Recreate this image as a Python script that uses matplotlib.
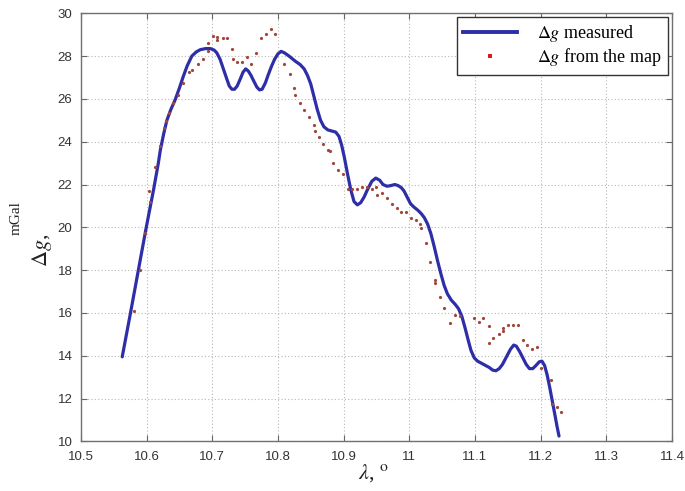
import matplotlib
matplotlib.use("Agg")
import matplotlib.pyplot as plt
from matplotlib.ticker import FuncFormatter
from matplotlib.lines import Line2D

# Measured gravity anomaly along the profile (longitude, mGal)
lon_measured = [10.563, 10.575, 10.587, 10.599, 10.611, 10.618, 10.621, 10.626, 10.631, 10.637,
                10.6435, 10.650, 10.656, 10.662, 10.669, 10.676, 10.682, 10.690, 10.697, 10.703,
                10.707, 10.712, 10.717, 10.722, 10.726, 10.730, 10.734, 10.738, 10.743, 10.747,
                10.751, 10.755, 10.759, 10.763, 10.768, 10.772, 10.776, 10.781, 10.785, 10.790,
                10.795, 10.800, 10.805, 10.810, 10.817, 10.827, 10.834, 10.840, 10.845, 10.850,
                10.855, 10.860, 10.865, 10.870, 10.876, 10.882, 10.888, 10.893, 10.897, 10.901,
                10.906, 10.911, 10.916, 10.921, 10.926, 10.931, 10.937, 10.943, 10.949, 10.955,
                10.960, 10.966, 10.972, 10.978, 10.983, 10.988, 10.992, 10.997, 11.002, 11.007,
                11.013, 11.018, 11.023, 11.028, 11.033, 11.038, 11.043, 11.048, 11.053, 11.058,
                11.064, 11.070, 11.075, 11.080, 11.085, 11.090, 11.094, 11.099, 11.104, 11.110,
                11.116, 11.122, 11.127, 11.132, 11.137, 11.142, 11.148, 11.154, 11.159, 11.163,
                11.168, 11.173, 11.178, 11.183, 11.188, 11.193, 11.198, 11.202, 11.206, 11.210,
                11.214, 11.218, 11.222, 11.225, 11.228]
dg_measured = [13.95, 15.9, 17.9, 19.9, 21.8, 23.0, 23.6, 24.35, 25.0, 25.5,
               25.95, 26.5, 27.05, 27.55, 28.0, 28.2, 28.3, 28.35, 28.35, 28.28,
               28.15, 27.85, 27.4, 26.95, 26.6, 26.45, 26.45, 26.6, 26.95, 27.25,
               27.4, 27.3, 27.1, 26.85, 26.55, 26.42, 26.45, 26.75, 27.1, 27.5,
               27.85, 28.1, 28.22, 28.15, 28.0, 27.75, 27.6, 27.4, 27.1, 26.7,
               26.1, 25.5, 25.0, 24.7, 24.55, 24.5, 24.45, 24.25, 23.85, 23.3,
               22.5, 21.75, 21.2, 21.05, 21.15, 21.4, 21.8, 22.15, 22.3, 22.2,
               22.0, 21.92, 21.95, 22.0, 21.95, 21.85, 21.7, 21.4, 21.1, 20.95,
               20.8, 20.65, 20.45, 20.15, 19.7, 19.1, 18.45, 17.85, 17.3, 16.9,
               16.6, 16.4, 16.2, 15.85, 15.3, 14.7, 14.25, 13.9, 13.75, 13.65,
               13.55, 13.45, 13.33, 13.3, 13.4, 13.6, 13.95, 14.3, 14.5, 14.45,
               14.2, 13.9, 13.6, 13.4, 13.4, 13.55, 13.72, 13.75, 13.55, 13.1,
               12.5, 11.85, 11.2, 10.7, 10.25]

# Gravity anomaly taken from the map
lon_map = [10.581, 10.590, 10.598, 10.604, 10.606, 10.613, 10.621, 10.626, 10.629, 10.634,
           10.641, 10.648, 10.656, 10.664, 10.670, 10.678, 10.686, 10.693, 10.693, 10.701,
           10.707, 10.708, 10.716, 10.723, 10.730, 10.731, 10.738, 10.745, 10.753, 10.759,
           10.767, 10.775, 10.782, 10.790, 10.796, 10.810, 10.818, 10.825, 10.826, 10.833,
           10.840, 10.847, 10.855, 10.856, 10.862, 10.869, 10.877, 10.879, 10.884, 10.892,
           10.899, 10.907, 10.913, 10.921, 10.928, 10.936, 10.944, 10.950, 10.951, 10.958,
           10.966, 10.973, 10.981, 10.988, 10.995, 11.003, 11.010, 11.017, 11.018, 11.025,
           11.032, 11.039, 11.039, 11.047, 11.053, 11.062, 11.069, 11.077, 11.099, 11.106,
           11.113, 11.121, 11.121, 11.128, 11.136, 11.142, 11.143, 11.150, 11.158, 11.165,
           11.173, 11.180, 11.187, 11.195, 11.201, 11.216, 11.218, 11.225, 11.231]
dg_map = [16.1, 18.0, 19.75, 21.7, 21.2, 22.8, 23.8, 24.65, 24.95, 25.35,
          25.8, 26.2, 26.75, 27.25, 27.35, 27.65, 27.85, 28.25, 28.6, 28.95,
          28.9, 28.75, 28.85, 28.85, 28.35, 27.85, 27.7, 27.7, 27.95, 27.65,
          28.15, 28.85, 29.05, 29.25, 29.05, 27.65, 27.15, 26.5, 26.2, 25.8,
          25.5, 25.15, 24.8, 24.5, 24.2, 23.9, 23.6, 23.55, 23.0, 22.7,
          22.5, 21.8, 21.8, 21.8, 21.9, 21.9, 21.8, 21.9, 21.5, 21.6,
          21.35, 21.1, 20.9, 20.7, 20.7, 20.45, 20.35, 20.17, 19.97, 19.25,
          18.4, 17.55, 17.4, 16.75, 16.25, 15.55, 15.9, 15.85, 15.75, 15.6,
          15.75, 15.4, 14.62, 14.82, 15.0, 15.15, 15.3, 15.42, 15.42, 15.42,
          14.73, 14.52, 14.3, 14.42, 13.42, 12.86, 11.75, 11.6, 11.36]

x_ticks = [10.5, 10.6, 10.7, 10.8, 10.9, 11.0, 11.1, 11.2, 11.3, 11.4]
y_ticks = [10, 12, 14, 16, 18, 20, 22, 24, 26, 28, 30]

plt.rcParams["mathtext.fontset"] = "stix"

fig = plt.figure(figsize=(6.85, 4.91), dpi=100)
ax = fig.add_axes([0.118, 0.101, 0.863, 0.872])

ax.plot(lon_measured, dg_measured, color="#2e2ea8", lw=2.3, solid_capstyle="round",
        solid_joinstyle="round", zorder=3)
ax.plot(lon_map, dg_map, ls="none", marker="o", ms=2.3, mew=0, color="#a3463a", zorder=4)

ax.set_xlim(10.5, 11.4)
ax.set_ylim(10, 30)
ax.set_xticks(x_ticks)
ax.set_yticks(y_ticks)
ax.xaxis.set_major_formatter(FuncFormatter(lambda v, p: f"{v:g}"))
ax.tick_params(direction="in", length=4, width=0.8, color="#666666",
               labelsize=9.5, labelcolor="#333333", top=True, right=True,
               labeltop=False, labelright=False)
ax.tick_params(axis="x", pad=7)
ax.tick_params(axis="y", pad=6)
for lab in ax.get_xticklabels() + ax.get_yticklabels():
    lab.set_fontfamily("Liberation Sans")
ax.grid(True, ls=(0, (1, 2)), color="#b8b8b8", lw=0.8)
for s in ax.spines.values():
    s.set_color("#707070")
    s.set_linewidth(1.0)

# Legend
handles = [Line2D([], [], color="#2e2ea8", lw=2.8),
           Line2D([], [], ls="none", marker="s", ms=3.2, mew=0, color="#d81a1a")]
labels = [r"$\Delta g$ measured", r"$\Delta g$ from the map"]
leg = ax.legend(handles, labels, loc="upper right", bbox_to_anchor=(0.994, 0.991),
                fancybox=False, framealpha=1, edgecolor="#333333",
                prop={"family": "Liberation Serif", "size": 13},
                handlelength=3.0, borderpad=0.35, labelspacing=0.1, handletextpad=1.1,
                borderaxespad=0.0)
leg.get_frame().set_linewidth(1.0)

# Axis labels
fig.text(0.062, 0.49, r"$\Delta g$,", rotation=90, ha="center", va="center",
         fontsize=16, family="Liberation Serif", color="#222222")
fig.text(0.024, 0.556, "mGal", rotation=90, ha="center", va="center",
         fontsize=11, family="Liberation Serif", color="#222222")
fig.text(0.545, 0.037, r"$\lambda$, $^{\mathrm{o}}$", ha="center", va="center",
         fontsize=16, family="Liberation Serif", color="#222222")

fig.savefig("out.png", dpi=100)
